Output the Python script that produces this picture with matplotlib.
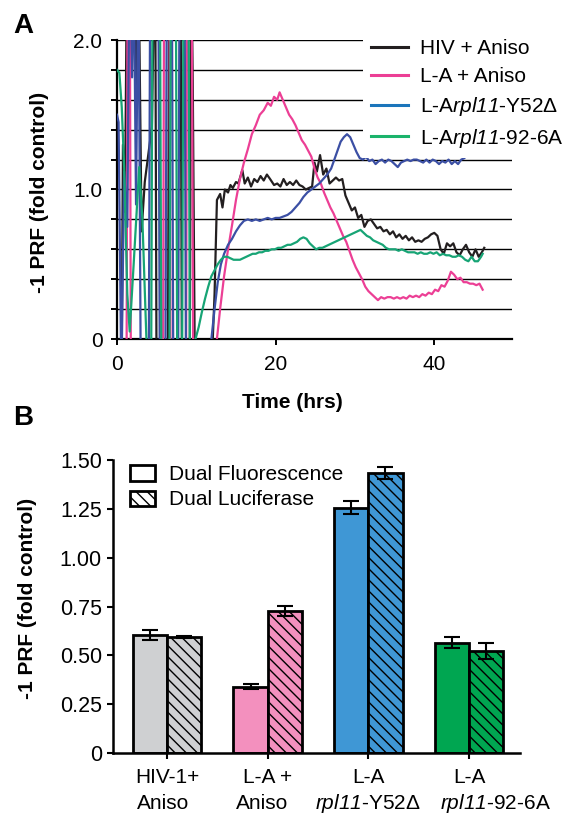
import matplotlib.pyplot as plt
from matplotlib.lines import Line2D
from matplotlib.patches import Patch
from matplotlib.ticker import FixedLocator, MultipleLocator

plt.rcParams['font.family'] = ['Liberation Sans', 'DejaVu Sans']
# only the gene names use mathtext, so both math fonts are italic
plt.rcParams['mathtext.fontset'] = 'custom'
plt.rcParams['mathtext.rm'] = 'Liberation Sans:italic'
plt.rcParams['mathtext.it'] = 'Liberation Sans:italic'
plt.rcParams['hatch.linewidth'] = 1.0

# ---- panel A: -1 PRF over time (hrs) ----
hiv_t = [0.0, 0.55, 0.75, 1.0, 1.3, 1.8, 2.1, 2.4, 2.7, 3.1, 3.5, 4.4, 4.8, 5.0, 6.4, 6.6, 8.0, 8.2,
         9.15, 9.35, 9.55, 9.8, 12.0, 12.3, 12.6, 13.0, 13.3, 13.6, 14.0, 14.3, 14.6, 15.0, 15.3,
         15.8, 16.1, 16.5, 16.9, 17.3, 17.7, 18.1, 18.5, 18.9, 19.3, 19.8, 20.2, 20.6, 21.0, 21.4,
         21.8, 22.2, 22.6, 23.0, 23.4, 23.8, 24.2, 24.6, 24.9, 25.2, 25.6, 26.0, 26.4, 26.8, 27.2,
         27.6, 28.0, 28.4, 28.8, 29.2, 29.6, 30.0, 30.4, 30.8, 31.2, 31.6, 32.0, 32.4, 32.8, 33.2,
         33.6, 34.0, 34.4, 34.8, 35.2, 35.6, 36.0, 36.4, 36.8, 37.2, 37.6, 38.0, 38.4, 38.8, 39.2,
         39.6, 40.0, 40.4, 40.8, 41.2, 41.6, 42.0, 42.4, 42.8, 43.2, 43.6, 44.0, 44.4, 44.8, 45.2,
         45.6, 46.0, 46.3]
hiv_v = [-0.5, -0.5, 1.3, 0.85, 2.8, 1.9, 2.7, 1.65, 2.6, 0.72, 1.05, 1.42, 2.8, -0.5, -0.5, 2.8, 2.8, -0.5,
         -0.5, 2.6, 1.72, -0.1, -0.1, 0.3, 0.93, 0.97, 0.88, 1.0, 0.98, 1.03, 1.01, 1.05, 1.04,
         1.13, 1.04, 1.08, 1.02, 1.07, 1.05, 1.09, 1.06, 1.1, 1.07, 1.03, 1.04, 1.02, 1.07, 1.03,
         1.05, 1.03, 1.06, 1.03, 1.02, 1.0, 1.01, 1.02, 1.18, 1.12, 1.23, 1.1, 1.14, 1.04, 1.06,
         1.08, 1.06, 1.07, 0.96, 0.91, 0.86, 0.88, 0.81, 0.83, 0.75, 0.79, 0.8, 0.77, 0.74, 0.75,
         0.72, 0.73, 0.7, 0.72, 0.68, 0.7, 0.67, 0.69, 0.66, 0.68, 0.65, 0.66, 0.65, 0.67, 0.68,
         0.7, 0.71, 0.69, 0.6, 0.57, 0.64, 0.62, 0.64, 0.58, 0.56, 0.6, 0.63, 0.58, 0.55, 0.6,
         0.55, 0.58, 0.61]

la_t = [0.0, 1.2, 1.35, 1.6, 1.75, 5.8, 5.95, 6.6, 6.75, 8.7, 8.85, 9.4, 9.6, 12.0, 12.6, 13.0,
        13.5, 14.0, 14.5, 15.0, 15.5, 16.0, 16.5, 17.0, 17.5, 18.0, 18.5, 19.0, 19.4, 19.8, 20.2,
        20.5, 20.9, 21.3, 21.7, 22.1, 22.5, 22.9, 23.3, 23.7, 24.1, 24.5, 24.9, 25.3, 25.7, 26.1,
        26.5, 26.9, 27.3, 27.7, 28.1, 28.5, 28.9, 29.3, 29.7, 30.1, 30.5, 30.9, 31.3, 31.7, 32.1,
        32.5, 32.9, 33.3, 33.7, 34.1, 34.5, 34.9, 35.3, 35.7, 36.1, 36.5, 36.9, 37.3, 37.7, 38.1,
        38.5, 38.9, 39.3, 39.7, 40.1, 40.5, 40.9, 41.3, 41.7, 42.1, 42.5, 42.9, 43.3, 43.7, 44.1,
        44.5, 44.9, 45.3, 45.7, 46.1]
la_v = [-0.3, -0.3, 2.7, 2.7, -0.3, -0.3, 2.7, 2.7, -0.3, -0.3, 2.7, 2.7, -0.1, -0.1, 0.0, 0.2,
        0.42, 0.6, 0.76, 0.93, 1.07, 1.18, 1.27, 1.37, 1.43, 1.5, 1.53, 1.58, 1.56, 1.62, 1.6,
        1.65, 1.6, 1.55, 1.5, 1.47, 1.43, 1.38, 1.33, 1.3, 1.26, 1.22, 1.14, 1.08, 1.04, 0.98,
        0.93, 0.88, 0.84, 0.79, 0.74, 0.69, 0.65, 0.59, 0.53, 0.48, 0.44, 0.4, 0.35, 0.32, 0.3,
        0.28, 0.26, 0.28, 0.27, 0.28, 0.28, 0.27, 0.28, 0.27, 0.28, 0.27, 0.29, 0.28, 0.29, 0.28,
        0.3, 0.29, 0.31, 0.3, 0.33, 0.32, 0.36, 0.35, 0.39, 0.45, 0.43, 0.4, 0.41, 0.38, 0.38,
        0.37, 0.37, 0.36, 0.37, 0.33]

y52_t = [0.0, 0.2, 0.55, 0.9, 1.3, 1.6, 1.9, 2.1, 2.4, 2.7, 3.0, 4.0, 4.2, 5.2, 5.4, 6.1, 6.3, 6.9,
         7.1, 7.7, 7.9, 8.5, 8.7, 11.6, 11.9, 12.3, 12.7, 13.1, 13.5, 14.0, 14.5, 15.0, 15.5, 16.0,
         16.5, 17.0, 17.5, 18.0, 18.5, 19.0, 19.5, 20.0, 20.5, 21.0, 21.5, 22.0, 22.5, 23.0, 23.5,
         24.0, 24.5, 25.0, 25.5, 26.0, 26.5, 27.0, 27.4, 27.8, 28.2, 28.6, 29.0, 29.4, 29.8, 30.2,
         30.6, 31.0, 31.4, 31.8, 32.2, 32.6, 33.0, 33.4, 33.8, 34.2, 34.6, 35.0, 35.4, 35.8, 36.2,
         36.6, 37.0, 37.4, 37.8, 38.2, 38.6, 39.0, 39.4, 39.8, 40.2, 40.6, 41.0, 41.4, 41.8, 42.2,
         42.6, 43.0, 43.4, 43.8, 44.2, 44.6, 45.0, 45.4, 45.8, 46.1]
y52_v = [1.5, 1.45, -0.3, 1.12, 0.75, 2.7, 1.75, 2.6, 0.9, 2.6, -0.3, -0.3, 2.7, 2.7, -0.3, -0.3, 2.7, 2.7,
         -0.3, -0.3, 2.7, 2.7, -0.3, -0.1, 0.0, 0.2, 0.38, 0.5, 0.57, 0.63, 0.67, 0.72, 0.76, 0.79,
         0.8, 0.79, 0.8, 0.79, 0.8, 0.81, 0.8, 0.81, 0.81, 0.82, 0.83, 0.85, 0.88, 0.91, 0.95,
         0.98, 1.0, 1.02, 1.04, 1.07, 1.1, 1.14, 1.2, 1.26, 1.32, 1.35, 1.37, 1.35, 1.3, 1.25,
         1.21, 1.2, 1.22, 1.19, 1.2, 1.17, 1.19, 1.2, 1.18, 1.2, 1.19, 1.17, 1.15, 1.18, 1.19,
         1.2, 1.19, 1.2, 1.2, 1.19, 1.18, 1.2, 1.18, 1.2, 1.19, 1.17, 1.19, 1.18, 1.2, 1.17,
         1.19, 1.17, 1.2, 1.21, 1.24, 1.23, 1.24, 1.22, 1.24, 1.25]

m92_t = [0.0, 0.3, 0.6, 0.9, 1.3, 1.6, 2.1, 2.8, 3.2, 3.9, 4.3, 4.5, 5.4, 5.6, 6.6, 6.8, 7.4, 7.6, 8.2,
         8.4, 9.0, 9.2, 9.7, 9.9, 10.3, 10.7, 11.1, 11.5, 11.9, 12.3, 12.7, 13.1, 13.5, 13.9, 14.3,
         14.7, 15.1, 15.5, 15.9, 16.3, 16.7, 17.1, 17.5, 17.9, 18.3, 18.7, 19.1, 19.5, 19.9, 20.3,
         20.7, 21.1, 21.5, 21.9, 22.3, 22.7, 23.1, 23.5, 23.9, 24.3, 24.7, 25.1, 25.5, 25.9, 26.3,
         26.7, 27.1, 27.5, 27.9, 28.3, 28.7, 29.1, 29.5, 29.9, 30.3, 30.7, 31.1, 31.5, 31.9, 32.3,
         32.7, 33.1, 33.5, 33.9, 34.3, 34.7, 35.1, 35.5, 35.9, 36.3, 36.7, 37.1, 37.5, 37.9, 38.3,
         38.7, 39.1, 39.5, 39.9, 40.3, 40.7, 41.1, 41.5, 41.9, 42.3, 42.7, 43.1, 43.5, 43.9, 44.3,
         44.7, 45.1, 45.5, 45.9, 46.1]
m92_v = [1.8, 1.78, 1.55, 1.15, 0.3, 0.05, 0.5, 1.15, 0.8, -0.3, -0.3, 2.7, 2.7, -0.3, -0.3, 2.7, 2.7, -0.3, -0.3,
         2.7, 2.7, -0.3, -0.1, 0.0, 0.08, 0.18, 0.27, 0.35, 0.42, 0.46, 0.5, 0.53, 0.55, 0.55, 0.54,
         0.53, 0.53, 0.53, 0.54, 0.55, 0.56, 0.57, 0.57, 0.58, 0.58, 0.59, 0.59, 0.6, 0.6, 0.61,
         0.61, 0.62, 0.63, 0.63, 0.64, 0.65, 0.67, 0.68, 0.67, 0.64, 0.62, 0.6, 0.61, 0.61, 0.62,
         0.63, 0.64, 0.65, 0.66, 0.67, 0.68, 0.69, 0.7, 0.71, 0.72, 0.73, 0.71, 0.69, 0.68, 0.66,
         0.65, 0.64, 0.63, 0.61, 0.6, 0.6, 0.6, 0.59, 0.6, 0.59, 0.58, 0.58, 0.58, 0.57, 0.58,
         0.57, 0.57, 0.58, 0.57, 0.58, 0.56, 0.57, 0.56, 0.56, 0.55, 0.55, 0.56, 0.55, 0.53, 0.52,
         0.55, 0.52, 0.52, 0.55, 0.57]

series_names = ['HIV + Aniso', 'L-A + Aniso', 'L-A$rpl11$-Y52Δ', 'L-A$rpl11$-92-6A']
line_colors = ['#231f20', '#ec3f95', '#3b4fa4', '#17a475']
legend_colors = ['#231f20', '#ec3f95', '#1b75bb', '#1bb36b']

# ---- panel B: bars ----
group_line1 = ['HIV-1+', 'L-A +', 'L-A', 'L-A']
group_line2 = ['Aniso', 'Aniso', '$rpl11$-Y52Δ', '$rpl11$-92-6A']
fluor = [0.605, 0.34, 1.256, 0.565]
fluor_err = [0.024, 0.013, 0.033, 0.03]
luc = [0.595, 0.727, 1.432, 0.522]
luc_err = [0.005, 0.025, 0.03, 0.04]
bar_colors = ['#cfd0d2', '#f390be', '#3f97d5', '#00a651']

fig = plt.figure(figsize=(5.63, 8.13), dpi=100)
W, H = 563, 813

ax1 = fig.add_axes([117 / W, 1 - 339 / H, (512 - 117) / W, (339 - 40) / H])
for t, v, c in zip([hiv_t, la_t, y52_t, m92_t], [hiv_v, la_v, y52_v, m92_v], line_colors):
    ax1.plot(t, v, color=c, lw=1.6, zorder=3)
ax1.set_xlim(0, 49.8)
ax1.set_ylim(0, 2.0)
ax1.yaxis.set_major_locator(FixedLocator([0, 1.0, 2.0]))
ax1.yaxis.set_minor_locator(MultipleLocator(0.2))
ax1.set_yticklabels(['0', '1.0', '2.0'])
ax1.set_xticks([0, 20, 40])
ax1.yaxis.grid(True, which='both', color='black', lw=1.0)
ax1.set_axisbelow(True)
for s in ['top', 'right']:
    ax1.spines[s].set_visible(False)
for s in ['left', 'bottom']:
    ax1.spines[s].set_linewidth(1.6)
ax1.tick_params(which='both', direction='out', length=4.5, width=1.4, labelsize=15, pad=6)
ax1.tick_params(axis='x', pad=7)

handles = [Line2D([], [], color=c, lw=2.2) for c in legend_colors]
leg = ax1.legend(handles, series_names, loc='upper left', bbox_to_anchor=(363 / W, 1 - 31 / H),
                 bbox_transform=fig.transFigure, fontsize=15, frameon=True, fancybox=False,
                 framealpha=1, edgecolor='none', facecolor='white', borderpad=0.4,
                 handlelength=1.75, handletextpad=0.6, labelspacing=0.42, borderaxespad=0)
leg.set_zorder(5)

fig.text(40 / W, 1 - 192 / H, '-1 PRF (fold control)', rotation=90, ha='center', va='center',
         fontsize=15, fontweight='bold')
fig.text(292 / W, 1 - 402 / H, 'Time (hrs)', ha='center', va='center', fontsize=15, fontweight='bold')
fig.text(13 / W, 1 - 33 / H, 'A', fontsize=20, fontweight='bold')
fig.text(13 / W, 1 - 425 / H, 'B', fontsize=20, fontweight='bold')

# ---- panel B axes ----
ax2 = fig.add_axes([113 / W, 1 - 753 / H, (520 - 113) / W, (753 - 460) / H])
x = list(range(len(group_line1)))
bw = 0.34
xf = [i - bw / 2 for i in x]
xl = [i + bw / 2 for i in x]
ax2.bar(xf, fluor, width=bw, color=bar_colors, edgecolor='black', linewidth=2.0, zorder=2)
ax2.bar(xl, luc, width=bw, color=bar_colors, edgecolor='black', linewidth=2.0, hatch='\\\\\\', zorder=2)
ax2.errorbar(xf, fluor, yerr=fluor_err, fmt='none', ecolor='black', elinewidth=1.5, capsize=6,
             capthick=1.5, zorder=3)
ax2.errorbar(xl, luc, yerr=luc_err, fmt='none', ecolor='black', elinewidth=1.5, capsize=6,
             capthick=1.5, zorder=3)
ax2.set_xlim(-0.536, 3.506)
ax2.set_ylim(0, 1.5)
ax2.set_yticks([0, 0.25, 0.5, 0.75, 1.0, 1.25, 1.5])
ax2.set_yticklabels(['0', '0.25', '0.50', '0.75', '1.00', '1.25', '1.50'])
ax2.set_xticks(x)
ax2.set_xticklabels(group_line1, fontsize=15)
for s in ['top', 'right']:
    ax2.spines[s].set_visible(False)
for s in ['left', 'bottom']:
    ax2.spines[s].set_linewidth(1.8)
ax2.tick_params(direction='out', length=4, width=1.5, labelsize=15.5, pad=4)
ax2.tick_params(axis='x', pad=7, labelsize=15)

# second line of the group names (the last one sits right of its tick, as in the source)
line2_dx = [-3, -4, 0, 19]
for i, lab, dx in zip(x, group_line2, line2_dx):
    ax2.annotate(lab, xy=(i, 0), xycoords=('data', 'axes fraction'), xytext=(dx, -36),
                 textcoords='offset points', ha='center', va='center', fontsize=15)

bh = [Patch(facecolor='white', edgecolor='black', lw=2),
      Patch(facecolor='white', edgecolor='black', lw=2, hatch='\\\\\\')]
ax2.legend(bh, ['Dual Fluorescence', 'Dual Luciferase'], loc='upper left',
           bbox_to_anchor=(126 / W, 1 - 461 / H), bbox_transform=fig.transFigure, fontsize=15,
           frameon=False, borderpad=0.2, handlelength=1.2, handleheight=0.75, handletextpad=0.65,
           labelspacing=0.3, borderaxespad=0)

fig.text(28 / W, 1 - 598 / H, '-1 PRF (fold control)', rotation=90, ha='center', va='center',
         fontsize=15, fontweight='bold')

fig.savefig('out.png', dpi=100)
